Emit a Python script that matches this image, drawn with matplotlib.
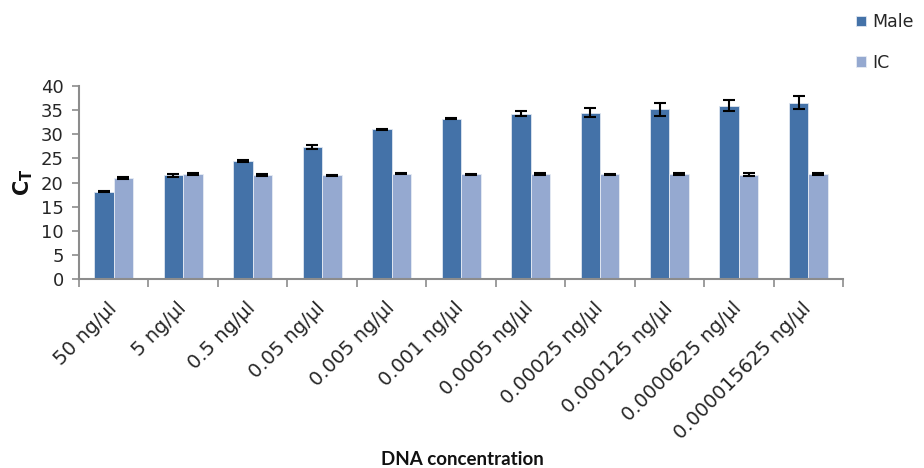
import numpy as np
import matplotlib.pyplot as plt
from matplotlib.ticker import FixedLocator

plt.rcParams['font.family'] = ['DejaVu Sans']

labels = ['50 ng/µl', '5 ng/µl', '0.5 ng/µl', '0.05 ng/µl', '0.005 ng/µl',
          '0.001 ng/µl', '0.0005 ng/µl', '0.00025 ng/µl', '0.000125 ng/µl',
          '0.0000625 ng/µl', '0.000015625 ng/µl']
male = [18.1, 21.5, 24.5, 27.4, 31.0, 33.2, 34.3, 34.5, 35.2, 35.9, 36.6]
male_err = [0.15, 0.3, 0.15, 0.35, 0.1, 0.1, 0.55, 0.95, 1.3, 1.15, 1.25]
ic = [20.9, 21.8, 21.6, 21.5, 21.8, 21.7, 21.8, 21.7, 21.8, 21.6, 21.8]
ic_err = [0.2, 0.15, 0.15, 0.15, 0.1, 0.1, 0.15, 0.15, 0.15, 0.3, 0.15]

c_male = '#4472a8'
c_ic = '#95a9d0'
grey = '#8c8c8c'
txt = '#262626'

fig = plt.figure(figsize=(9.24, 4.68), dpi=100)
ax = fig.add_axes([0.0855, 0.404, 0.827, 0.412])

x = np.arange(len(labels))
w = 0.28
ekw = dict(elinewidth=1.5, capthick=1.5, ecolor='black')
b1 = ax.bar(x - w / 2, male, w, yerr=male_err, capsize=4, color=c_male,
            edgecolor='#dfe6f0', linewidth=0.6, error_kw=ekw, label='Male')
b2 = ax.bar(x + w / 2, ic, w, yerr=ic_err, capsize=4, color=c_ic,
            edgecolor='#e6ebf4', linewidth=0.6, error_kw=ekw, label='IC')

ax.set_xlim(-0.5, len(labels) - 0.5)
ax.set_ylim(0, 40)
ax.set_yticks(range(0, 41, 5))
ax.set_xticks(x)
ax.set_xticklabels(labels, rotation=45, ha='right', va='center',
                   rotation_mode='anchor', fontsize=14, color=txt)
ax.xaxis.set_minor_locator(FixedLocator(np.arange(-0.5, len(labels), 1)))
ax.tick_params(axis='x', which='major', length=0, pad=19)
ax.tick_params(axis='x', which='minor', length=6, width=1.2, color=grey)
ax.tick_params(axis='y', length=5, width=1.2, color=grey, labelsize=13,
               labelcolor=txt, pad=6)

for s in ['top', 'right']:
    ax.spines[s].set_visible(False)
for s in ['left', 'bottom']:
    ax.spines[s].set_color(grey)
    ax.spines[s].set_linewidth(1.5)

ax.set_ylabel('C$_\\mathregular{T}$', fontsize=15, fontweight='bold',
              labelpad=4, color='#111111')
fig.text(0.5, 0.0, 'DNA concentration', ha='center', va='bottom',
         fontsize=13.5, fontweight='bold', color='#111111',
         family=['Lato', 'DejaVu Sans'])

fig.legend(handles=[b1, b2], labels=['Male', 'IC'], loc='upper left',
           bbox_to_anchor=(0.91, 1.005), frameon=False, fontsize=12.5,
           handlelength=0.55, handleheight=0.55, handletextpad=0.35,
           labelspacing=1.3, labelcolor=txt)

fig.savefig('out.png', dpi=100)
